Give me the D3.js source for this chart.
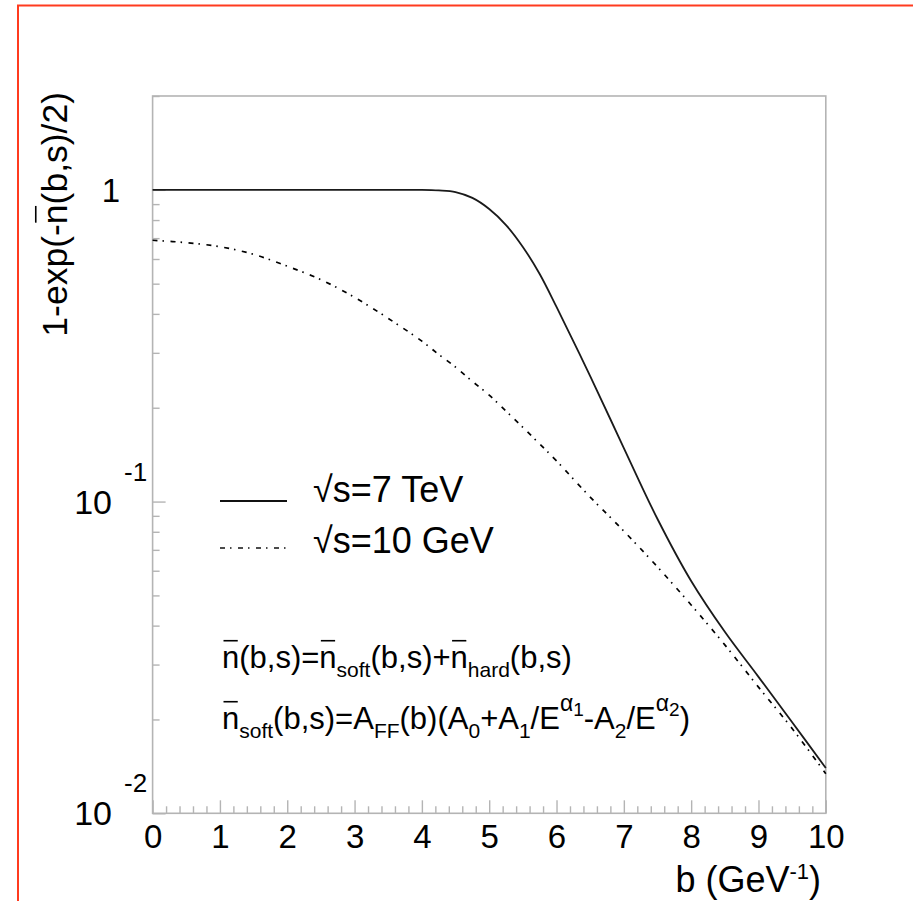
<!DOCTYPE html>
<html lang="en">
<head>
<meta charset="UTF-8">
<title>1-exp(-n(b,s)/2) vs b</title>
<script src="https://d3js.org/d3.v7.min.js"></script>
<style>
    body { margin: 0; background: #fff; }
    svg { display: block; font-family: "Liberation Sans", Arial, Helvetica, sans-serif; }
    .frame { fill: none; stroke: #b4b4b4; stroke-width: 1.6px; }
    .tick line { stroke: #b4b4b4; stroke-width: 1.4px; }
    .domain { display: none; }
</style>
</head>
<body>
<svg width="913" height="901"></svg>
<script>
    // impact parameter b (GeV^-1) and the two curves
    const bValues = [0, 0.5, 1, 1.5, 2, 2.5, 3, 3.5, 4, 4.25, 4.5, 4.75, 5, 5.25, 5.5, 5.75, 6, 6.5, 7, 7.5, 8, 8.5, 9, 9.5, 10];
    const tev7 = [1, 1, 1, 1, 1, 1, 1, 1, 1, 0.996, 0.984, 0.942, 0.868, 0.771, 0.656, 0.537, 0.421,
        0.2527, 0.1485, 0.0879, 0.0556, 0.0382, 0.0274, 0.0196, 0.01397];
    const gev10 = [0.689, 0.677, 0.657, 0.621, 0.569, 0.515, 0.452, 0.387, 0.327, 0.2965, 0.270, 0.243, 0.2195,
        0.195, 0.173, 0.153, 0.135, 0.1034, 0.0804, 0.0617, 0.0466, 0.0347, 0.0254, 0.0187, 0.0134];

    const xTicks = d3.range(0, 11);
    const yMajor = [0.01, 0.1, 1];
    const legendLabels = ["\u221As=7 TeV", "\u221As=10 GeV"];

    const svg = d3.select("svg");
    const plotLeft = 152.6, plotRight = 825.8, plotTop = 96, plotBottom = 813.3;

    svg.append("rect").attr("width", 913).attr("height", 901).attr("fill", "#fff");
    svg.append("path")
        .attr("d", "M18,901V5.5H913")
        .attr("fill", "none")
        .attr("stroke", "#ff3b1f")
        .attr("stroke-width", 2);

    const x = d3.scaleLinear().domain([0, 10]).range([plotLeft, plotRight]);
    const y = d3.scaleLog().domain([0.01, 2]).range([plotBottom, plotTop]);

    // ticks (inside the frame, like ROOT)
    const xMinor = d3.range(1, 50).filter(i => i % 5 !== 0).map(i => i / 5);
    const yMinor = [];
    [0.01, 0.1].forEach(d => { for (let k = 2; k <= 9; k++) yMinor.push(k * d); });
    yMinor.push(2);

    const xg = svg.append("g").attr("transform", `translate(0,${plotBottom})`);
    xg.append("g").call(d3.axisBottom(x).tickValues(xMinor).tickSizeInner(-7).tickSizeOuter(0).tickFormat(""));
    xg.append("g").call(d3.axisBottom(x).tickValues(xTicks).tickSizeInner(-13).tickSizeOuter(0).tickPadding(11));
    xg.selectAll("g").attr("font-size", null).attr("font-family", null);
    xg.selectAll("text")
        .attr("font-size", 33)
        .attr("fill", "#000");

    const yg = svg.append("g").attr("transform", `translate(${plotLeft},0)`);
    yg.append("g").call(d3.axisLeft(y).tickValues(yMinor).tickSizeInner(-7).tickSizeOuter(0).tickFormat(""));
    yg.append("g").call(d3.axisLeft(y).tickValues(yMajor).tickSizeInner(-13).tickSizeOuter(0).tickFormat(""));

    svg.append("rect").attr("class", "frame")
        .attr("x", plotLeft).attr("y", plotTop)
        .attr("width", plotRight - plotLeft).attr("height", plotBottom - plotTop);

    // y labels: 1, 10^-1, 10^-2
    yMajor.forEach(v => {
        const e = Math.round(Math.log10(v));
        if (e === 0) {
            svg.append("text").attr("x", 120).attr("y", y(v) + 12)
                .attr("text-anchor", "end").attr("font-size", 33).text("1");
        } else {
            svg.append("text").attr("x", 112).attr("y", y(v) + 12)
                .attr("text-anchor", "end").attr("font-size", 34).text("10");
            svg.append("text").attr("x", 124).attr("y", y(v) - 21)
                .attr("font-size", 26).text(String(e));
        }
    });

    // text with sub/superscripts and bars over chars
    function richText(parent, px, py, segs, size, anchor) {
        const t = parent.append("text").attr("x", px).attr("y", py)
            .attr("font-size", size).attr("text-anchor", anchor || "start");
        let cur = 0, idx = 0;
        const bars = [];
        segs.forEach(s => {
            const sh = s.shift || 0;
            t.append("tspan").attr("dy", sh - cur)
                .attr("font-size", s.size || size).text(s.t);
            cur = sh;
            if (s.bar) bars.push(idx);
            idx += s.t.length;
        });
        const node = t.node();
        bars.forEach(i => {
            const r = node.getExtentOfChar(i);
            parent.append("line")
                .attr("x1", r.x + 1.5).attr("x2", r.x + r.width - 1.5)
                .attr("y1", py - 0.88 * size).attr("y2", py - 0.88 * size)
                .attr("stroke", "#000").attr("stroke-width", 1.6);
        });
        return t;
    }

    // axis titles
    richText(svg, 821, 892, [{t: "b (GeV"}, {t: "-1", size: 22, shift: -13}, {t: ")"}], 36, "end");
    const yt = svg.append("g").attr("transform", "translate(67,92) rotate(-90)");
    richText(yt, 0, 0, [{t: "1-exp(-"}, {t: "n", bar: true}, {t: "(b,s)/2)"}], 35.5, "end");

    // curves
    const line = d3.line()
        .x((d, i) => x(bValues[i]))
        .y(d => y(d))
        .curve(d3.curveCatmullRom.alpha(0.5));

    svg.append("path").datum(tev7)
        .attr("d", line)
        .attr("fill", "none")
        .attr("stroke", "#1a1a1a")
        .attr("stroke-width", 1.8);

    svg.append("path").datum(gev10)
        .attr("d", line)
        .attr("fill", "none")
        .attr("stroke", "#000")
        .attr("stroke-width", 1.7)
        .attr("stroke-dasharray", "5,5,1.5,6.5");

    // legend
    const legY = [501, 548];
    const legTextY = [502, 553];
    legendLabels.forEach((lab, i) => {
        svg.append("line")
            .attr("x1", 220).attr("x2", 287)
            .attr("y1", legY[i]).attr("y2", legY[i])
            .attr("stroke", "#111")
            .attr("stroke-width", i === 0 ? 1.8 : 1.5)
            .attr("stroke-dasharray", i === 0 ? null : "5,5,1.5,6.5");
        svg.append("text").attr("x", 313).attr("y", legTextY[i])
            .attr("font-size", 36).text(lab);
    });

    // formulas
    const sub = (t) => ({t: t, size: 21, shift: 9});
    richText(svg, 222, 668, [
        {t: "n", bar: true}, {t: "(b,s)="}, {t: "n", bar: true}, sub("soft"),
        {t: "(b,s)+"}, {t: "n", bar: true}, sub("hard"), {t: "(b,s)"}
    ], 31);
    richText(svg, 222, 729, [
        {t: "n", bar: true}, sub("soft"), {t: "(b,s)=A"}, sub("FF"), {t: "(b)(A"}, sub("0"),
        {t: "+A"}, sub("1"), {t: "/E"}, {t: "\u03B1", size: 23, shift: -18}, {t: "1", size: 19, shift: -13},
        {t: "-A"}, sub("2"), {t: "/E"}, {t: "\u03B1", size: 23, shift: -18}, {t: "2", size: 19, shift: -13},
        {t: ")"}
    ], 31);
</script>
</body>
</html>
